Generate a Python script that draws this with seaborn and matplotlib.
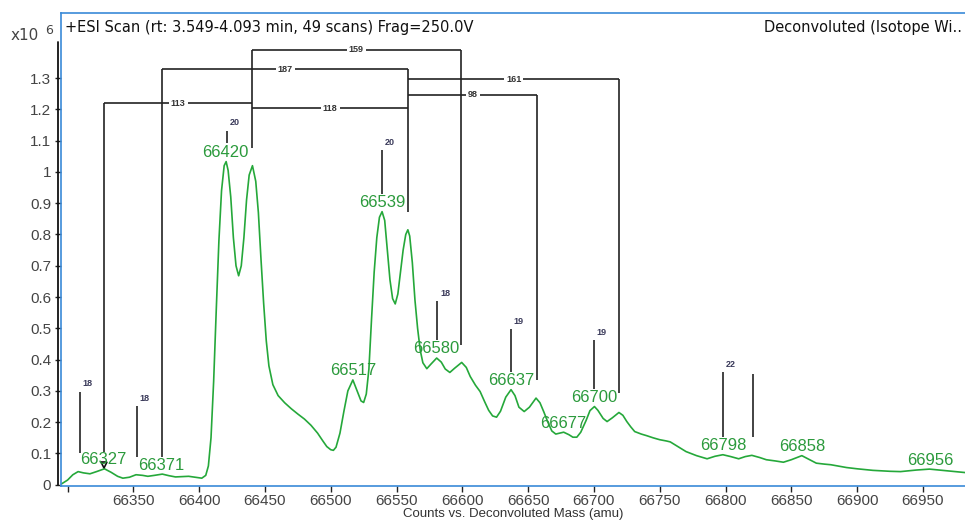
import numpy as np
import matplotlib
matplotlib.use('Agg')
import matplotlib.pyplot as plt
import seaborn as sns
from matplotlib.ticker import FuncFormatter

# === Data (intensity in 1e6 counts) ===
mass = [66295.5, 66300, 66304, 66308, 66312, 66317, 66322, 66328, 66333, 66338,
        66342, 66347, 66352, 66357, 66361, 66366, 66372, 66377, 66382, 66387,
        66392, 66397, 66402, 66405, 66407, 66409, 66411, 66413, 66415, 66417,
        66419, 66420.5, 66422, 66424, 66426, 66428, 66430, 66432, 66434, 66436,
        66438, 66440.5, 66443, 66445, 66447, 66449, 66451, 66453, 66456, 66460,
        66465, 66470, 66475, 66480, 66485, 66490, 66494, 66497, 66500, 66502,
        66504, 66507, 66510, 66513, 66516.8, 66520, 66523, 66525, 66527, 66529,
        66531, 66533, 66535, 66537, 66539, 66541, 66543, 66545, 66547, 66549,
        66551, 66553, 66555, 66557, 66558.6, 66560, 66562, 66564, 66566, 66568,
        66570, 66573, 66576, 66580.5, 66584, 66587, 66590.5, 66594, 66599.5, 66603,
        66606, 66610, 66613.5, 66617, 66620, 66623, 66626, 66629, 66633, 66637,
        66640, 66643, 66647, 66651, 66656, 66659, 66662, 66665, 66668, 66671,
        66674, 66677, 66681, 66684, 66687, 66690, 66694, 66697, 66700.4, 66703,
        66707, 66710, 66714, 66719, 66722, 66725, 66728, 66731, 66736, 66740,
        66745, 66750, 66755, 66758, 66763, 66770, 66778, 66786, 66792, 66798,
        66804, 66810, 66815, 66820, 66826, 66831, 66838, 66844, 66850, 66858,
        66864, 66869, 66875, 66880, 66892, 66900, 66912, 66925, 66933, 66945,
        66955, 66965, 66982]
intensity = [0.003, 0.015, 0.032, 0.042, 0.038, 0.035, 0.042, 0.051, 0.040, 0.027,
             0.021, 0.024, 0.032, 0.030, 0.027, 0.030, 0.034, 0.029, 0.025, 0.026,
             0.027, 0.024, 0.021, 0.030, 0.060, 0.150, 0.330, 0.560, 0.780, 0.940,
             1.020, 1.033, 1.005, 0.920, 0.790, 0.700, 0.668, 0.700, 0.790, 0.910,
             0.990, 1.020, 0.970, 0.870, 0.720, 0.580, 0.460, 0.380, 0.320, 0.285,
             0.262, 0.243, 0.226, 0.210, 0.190, 0.165, 0.140, 0.122, 0.112, 0.110,
             0.120, 0.165, 0.235, 0.300, 0.335, 0.300, 0.268, 0.263, 0.290, 0.370,
             0.530, 0.680, 0.790, 0.855, 0.873, 0.845, 0.750, 0.655, 0.595, 0.578,
             0.610, 0.680, 0.750, 0.800, 0.815, 0.795, 0.710, 0.590, 0.500, 0.430,
             0.390, 0.371, 0.385, 0.405, 0.392, 0.370, 0.359, 0.372, 0.391, 0.375,
             0.346, 0.318, 0.298, 0.265, 0.238, 0.220, 0.216, 0.235, 0.280, 0.304,
             0.285, 0.248, 0.234, 0.248, 0.277, 0.262, 0.232, 0.200, 0.172, 0.162,
             0.165, 0.168, 0.160, 0.152, 0.152, 0.168, 0.205, 0.237, 0.250, 0.238,
             0.212, 0.202, 0.214, 0.231, 0.222, 0.202, 0.185, 0.170, 0.162, 0.157,
             0.150, 0.144, 0.140, 0.137, 0.124, 0.106, 0.093, 0.083, 0.091, 0.096,
             0.090, 0.083, 0.090, 0.094, 0.087, 0.080, 0.076, 0.072, 0.080, 0.093,
             0.080, 0.069, 0.066, 0.064, 0.055, 0.051, 0.046, 0.043, 0.042, 0.047,
             0.050, 0.046, 0.039]

# peak labels
peak_mass = [66327, 66371, 66420, 66517, 66539, 66580, 66637, 66677, 66700, 66798, 66858, 66956]
peak_height = [0.051, 0.034, 1.033, 0.335, 0.873, 0.405, 0.304, 0.168, 0.250, 0.096, 0.093, 0.050]

# marker lines (vertical sticks)
stick_mass = [66309.5, 66328, 66352.6, 66372, 66421, 66440, 66539, 66559,
              66581, 66599, 66637, 66657, 66700, 66719, 66798, 66821]
stick_top = [0.298, 1.219, 0.252, 1.328, 1.132, 1.390, 1.070, 1.328,
             0.586, 1.390, 0.497, 1.247, 0.463, 1.296, 0.359, 0.355]
stick_bottom = [0.101, 0.106, 0.090, 0.090, 1.092, 1.076, 0.930, 0.873,
                0.463, 0.447, 0.359, 0.335, 0.306, 0.293, 0.154, 0.152]

# small delta labels beside sticks
delta_mass = [66309.5, 66352.6, 66421, 66539, 66581, 66637, 66700, 66798]
delta_top = [0.298, 0.252, 1.132, 1.070, 0.586, 0.497, 0.463, 0.359]
delta_text = ['18', '18', '20', '20', '18', '19', '19', '22']

# brackets between peaks
bracket_start = [66440, 66372, 66559, 66559, 66328, 66440]
bracket_end = [66599, 66559, 66719, 66657, 66440, 66559]
bracket_level = [1.390, 1.328, 1.296, 1.247, 1.219, 1.203]
bracket_text = ['159', '187', '161', '98', '113', '118']

x_ticks = list(range(66300, 66951, 50))
y_ticks = [0, 0.1, 0.2, 0.3, 0.4, 0.5, 0.6, 0.7, 0.8, 0.9, 1.0, 1.1, 1.2, 1.3]

# === Plot ===
sns.set_style('white')
plt.rcParams['font.family'] = ['Liberation Sans', 'DejaVu Sans']

green = '#25a83a'
label_green = '#2b9a3c'
frame_blue = '#3a8ad8'

fig = plt.figure(figsize=(9.65, 5.2), dpi=100)
ax = fig.add_axes([61 / 965, 34 / 520, 904 / 965, 473 / 520])

sns.lineplot(x=mass, y=intensity, color=green, lw=1.2, ax=ax, sort=True)

ax.vlines(stick_mass, stick_bottom, stick_top, color='#222222', lw=1.2)
ax.hlines(bracket_level, bracket_start, bracket_end, color='#222222', lw=1.2)
for s, e, lv, t in zip(bracket_start, bracket_end, bracket_level, bracket_text):
    ax.text((s + e) / 2, lv, t, ha='center', va='center', fontsize=6.5,
            fontweight='bold', color='#333333',
            bbox=dict(facecolor='white', edgecolor='none', pad=1.5))
for m, top, t in zip(delta_mass, delta_top, delta_text):
    ax.text(m + 6, top + 0.025, t, ha='center', va='center', fontsize=6.5,
            fontweight='bold', color='#3a3a5a')
for m, h in zip(peak_mass, peak_height):
    ax.text(m, h + 0.029, str(m), ha='center', va='center', fontsize=12,
            color=label_green)

ax.plot([66328], [0.064], marker='v', mfc='none', mec='#111111', ms=5, mew=1.2)

ax.set_xlim(66295, 66982)
ax.set_ylim(-0.004, 1.508)
ax.set_xticks(x_ticks)
ax.set_xticklabels([''] + [str(v) for v in x_ticks[1:]])
ax.set_yticks(y_ticks)
ax.yaxis.set_major_formatter(FuncFormatter(lambda v, p: '%g' % round(v, 1)))
ax.tick_params(axis='both', which='major', labelsize=11, labelcolor='#444444',
               length=4, width=1, color='#222222', pad=3,
               bottom=True, left=True)
ax.tick_params(axis='x', pad=2)

for side in ['top', 'bottom', 'left']:
    ax.spines[side].set_color(frame_blue)
    ax.spines[side].set_linewidth(1.2)
ax.spines['right'].set_visible(False)
# black value axis line
ax.plot([-0.003, -0.003], [0, 1.415], color='#111111', lw=1.3,
        transform=ax.get_yaxis_transform(), clip_on=False)

ax.set_xlabel('Counts vs. Deconvoluted Mass (amu)', fontsize=9.5, color='#333333',
              labelpad=0)
ax.set_ylabel('')

ax.text(4 / 904, 0.970, '+ESI Scan (rt: 3.549-4.093 min, 49 scans) Frag=250.0V',
        transform=ax.transAxes, ha='left', va='center', fontsize=10.5,
        color='#111111', family='DejaVu Sans')
ax.text((962 - 61) / 904, 0.970, 'Deconvoluted (Isotope Wi..',
        transform=ax.transAxes, ha='right', va='center', fontsize=10.5,
        color='#111111', family='DejaVu Sans')

fig.text(11 / 965, 1 - 36 / 520, 'x10', fontsize=11, color='#444444', va='center',
         family='DejaVu Sans')
fig.text(45 / 965, 1 - 31 / 520, '6', fontsize=9, color='#444444', va='center',
         family='DejaVu Sans')

fig.savefig('out.png', dpi=100)
